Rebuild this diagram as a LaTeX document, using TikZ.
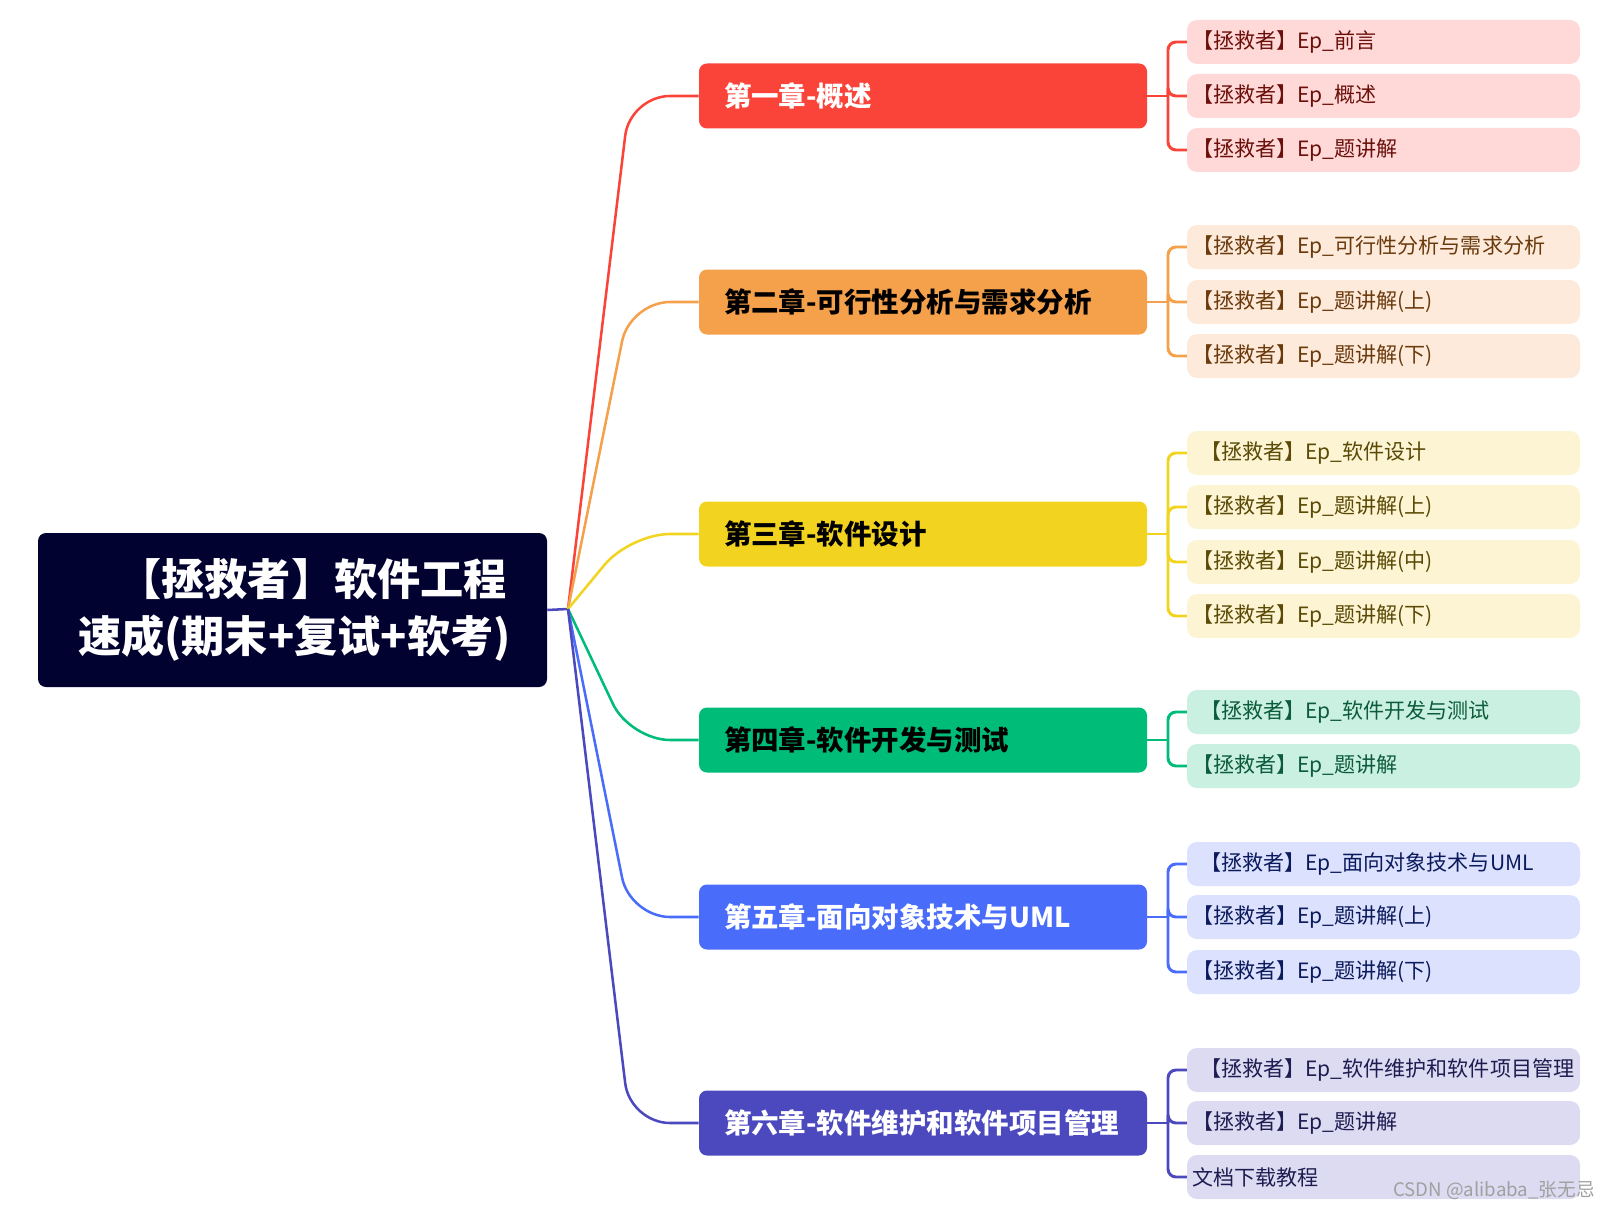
\documentclass[tikz,border=0pt]{standalone}
\usepackage{fontspec}
\setmainfont{Noto Sans CJK SC}
\definecolor{rootbg}{HTML}{020230}
\definecolor{cA}{HTML}{FA443A}
\definecolor{fA}{HTML}{FFD9D8}
\definecolor{tA}{HTML}{6B0F0A}
\definecolor{cB}{HTML}{F5A04B}
\definecolor{fB}{HTML}{FDEADB}
\definecolor{tB}{HTML}{6A3A0C}
\definecolor{cC}{HTML}{F2D420}
\definecolor{fC}{HTML}{FCF4D3}
\definecolor{tC}{HTML}{5A4A06}
\definecolor{cD}{HTML}{00BC79}
\definecolor{fD}{HTML}{CAF0E2}
\definecolor{tD}{HTML}{0C5B3C}
\definecolor{cE}{HTML}{4A6CFA}
\definecolor{fE}{HTML}{DCE1FD}
\definecolor{tE}{HTML}{0B1A5C}
\definecolor{cF}{HTML}{4C49BF}
\definecolor{fF}{HTML}{DCDBF1}
\definecolor{tF}{HTML}{1E1C50}
\definecolor{wmark}{HTML}{A0A0A0}
\begin{document}
\begin{tikzpicture}[x=0.75pt,y=-0.75pt,
  rootbox/.style={fill=rootbg,rounded corners=6pt,text=white,font=\bfseries\fontsize{32.4}{43}\selectfont,
    minimum height=115.5pt,text width=321.75pt,inner xsep=30pt,align=right},
  chapbox/.style={rounded corners=6pt,minimum height=48.75pt,text width=298.5pt,inner xsep=18.75pt,
    align=left,font=\bfseries\fontsize{20.6}{24}\selectfont},
  leafbox/.style={rounded corners=7.5pt,minimum height=33pt,text width=287.25pt,inner xsep=3.75pt,
    align=left,font=\fontsize{15.8}{19}\selectfont},
  branch/.style={line width=1.9pt,rounded corners=30pt},
  bracket/.style={line width=2.2pt,rounded corners=6pt}]
\useasboundingbox (0,0) rectangle (1616,1209);
\node[rootbox] (root) at (292.5,610) {【拯救者】软件工程\\速成(期末+复试+软考)};
\coordinate (hub) at (568,609);
\node[chapbox,fill=cA,text=white] (ch1) at (923,96) {第一章-概述};
\node[chapbox,fill=cB,text=black] (ch2) at (923,302) {第二章-可行性分析与需求分析};
\node[chapbox,fill=cC,text=black] (ch3) at (923,534) {第三章-软件设计};
\node[chapbox,fill=cD,text=black] (ch4) at (923,740) {第四章-软件开发与测试};
\node[chapbox,fill=cE,text=white] (ch5) at (923,917) {第五章-面向对象技术与UML};
\node[chapbox,fill=cF,text=white] (ch6) at (923,1123) {第六章-软件维护和软件项目管理};
\node[leafbox,fill=fA,text=tA] (l11) at (1383.5,42) {【拯救者】Ep\_前言};
\node[leafbox,fill=fA,text=tA] (l12) at (1383.5,96) {【拯救者】Ep\_概述};
\node[leafbox,fill=fA,text=tA] (l13) at (1383.5,150) {【拯救者】Ep\_题讲解};
\node[leafbox,fill=fB,text=tB] (l21) at (1383.5,247) {【拯救者】Ep\_可行性分析与需求分析};
\node[leafbox,fill=fB,text=tB] (l22) at (1383.5,302) {【拯救者】Ep\_题讲解(上)};
\node[leafbox,fill=fB,text=tB] (l23) at (1383.5,356) {【拯救者】Ep\_题讲解(下)};
\node[leafbox,fill=fC,text=tC] (l31) at (1383.5,453) {\hspace*{6pt}【拯救者】Ep\_软件设计};
\node[leafbox,fill=fC,text=tC] (l32) at (1383.5,507) {【拯救者】Ep\_题讲解(上)};
\node[leafbox,fill=fC,text=tC] (l33) at (1383.5,562) {【拯救者】Ep\_题讲解(中)};
\node[leafbox,fill=fC,text=tC] (l34) at (1383.5,616) {【拯救者】Ep\_题讲解(下)};
\node[leafbox,fill=fD,text=tD] (l41) at (1383.5,712) {\hspace*{6pt}【拯救者】Ep\_软件开发与测试};
\node[leafbox,fill=fD,text=tD] (l42) at (1383.5,766) {【拯救者】Ep\_题讲解};
\node[leafbox,fill=fE,text=tE] (l51) at (1383.5,864) {\hspace*{6pt}【拯救者】Ep\_面向对象技术与UML};
\node[leafbox,fill=fE,text=tE] (l52) at (1383.5,917) {【拯救者】Ep\_题讲解(上)};
\node[leafbox,fill=fE,text=tE] (l53) at (1383.5,972) {【拯救者】Ep\_题讲解(下)};
\node[leafbox,fill=fF,text=tF] (l61) at (1383.5,1070) {\hspace*{6pt}【拯救者】Ep\_软件维护和软件项目管理};
\node[leafbox,fill=fF,text=tF] (l62) at (1383.5,1123) {【拯救者】Ep\_题讲解};
\node[leafbox,fill=fF,text=tF] (l63) at (1383.5,1177) {文档下载教程};
\draw[branch,cF] (root.east) -- (hub);
\draw[branch,cA] (hub) -- (630,96) -- (ch1.west);
\draw[branch,cB] (hub) -- (630,302) -- (ch2.west);
\draw[branch,cC] (hub) -- (630,534) -- (ch3.west);
\draw[branch,cD] (hub) -- (630,740) -- (ch4.west);
\draw[branch,cE] (hub) -- (630,917) -- (ch5.west);
\draw[branch,cF] (hub) -- (630,1123) -- (ch6.west);
\coordinate (k1) at (1168,96);
\coordinate (k2) at (1168,302);
\coordinate (k3) at (1168,534);
\coordinate (k4) at (1168,740);
\coordinate (k5) at (1168,917);
\coordinate (k6) at (1168,1123);
\draw[bracket,cA] (ch1.east) -- (k1);
\draw[bracket,cA] (k1) |- (l11.west);
\draw[bracket,cA] (k1) |- (l12.west);
\draw[bracket,cA] (k1) |- (l13.west);
\draw[bracket,cB] (ch2.east) -- (k2);
\draw[bracket,cB] (k2) |- (l21.west);
\draw[bracket,cB] (k2) |- (l22.west);
\draw[bracket,cB] (k2) |- (l23.west);
\draw[bracket,cC] (ch3.east) -- (k3);
\draw[bracket,cC] (k3) |- (l31.west);
\draw[bracket,cC] (k3) |- (l32.west);
\draw[bracket,cC] (k3) |- (l33.west);
\draw[bracket,cC] (k3) |- (l34.west);
\draw[bracket,cD] (ch4.east) -- (k4);
\draw[bracket,cD] (k4) |- (l41.west);
\draw[bracket,cD] (k4) |- (l42.west);
\draw[bracket,cE] (ch5.east) -- (k5);
\draw[bracket,cE] (k5) |- (l51.west);
\draw[bracket,cE] (k5) |- (l52.west);
\draw[bracket,cE] (k5) |- (l53.west);
\draw[bracket,cF] (ch6.east) -- (k6);
\draw[bracket,cF] (k6) |- (l61.west);
\draw[bracket,cF] (k6) |- (l62.west);
\draw[bracket,cF] (k6) |- (l63.west);
\node[anchor=west,text=wmark,inner sep=0pt,font=\fontsize{14}{16}\selectfont] (mark) at (1393,1190) {CSDN @alibaba\_张无忌};
\end{tikzpicture}
\end{document}
